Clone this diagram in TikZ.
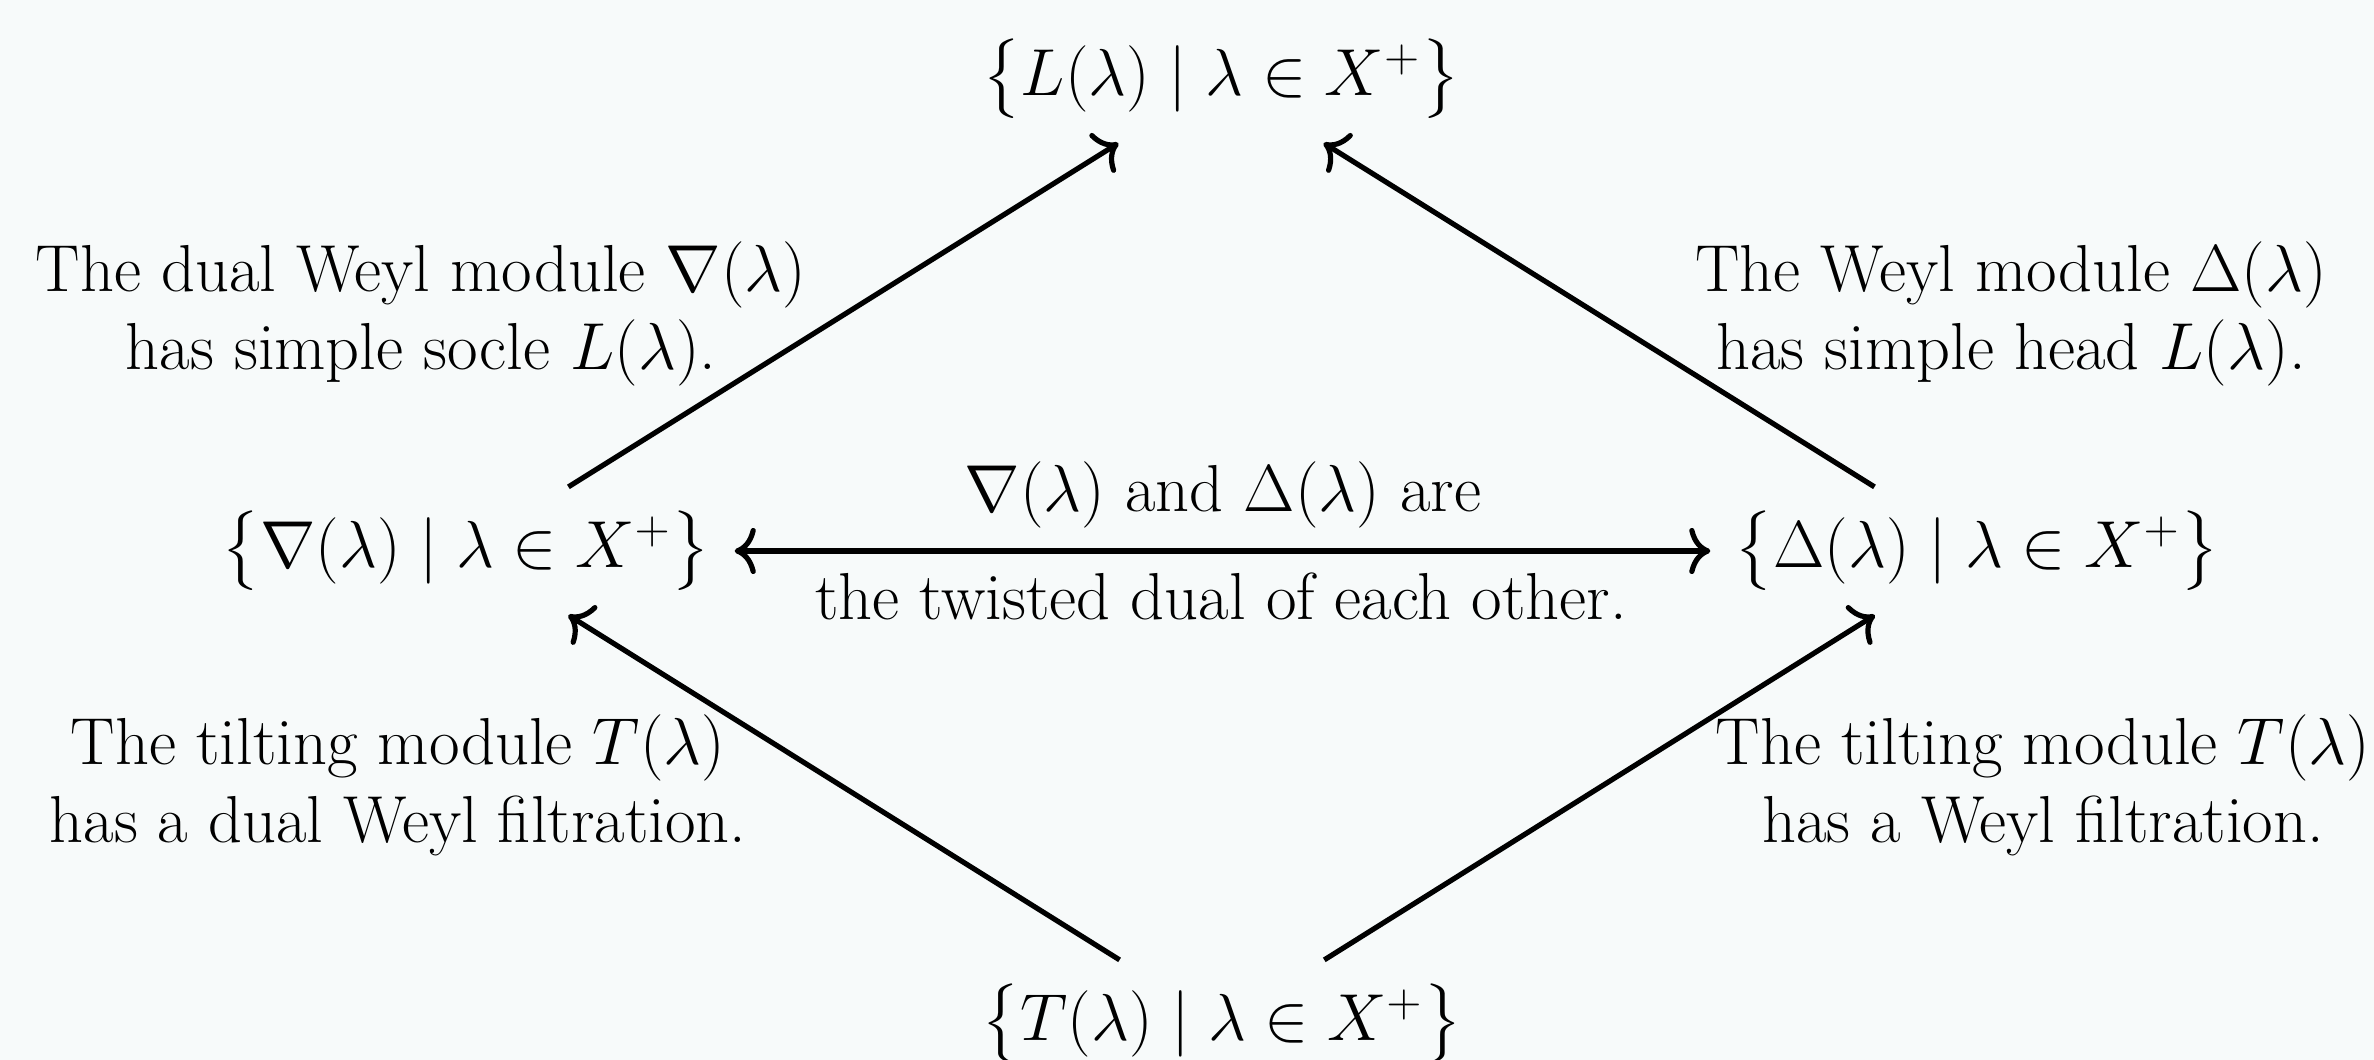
\documentclass[tikz,border=0pt]{standalone}
\usepackage{amsmath,amssymb}
\usetikzlibrary{arrows.meta}
\definecolor{bgcol}{RGB}{247,250,250}
\begin{document}
\begin{tikzpicture}[x=0.26pt,y=-0.26pt,
  font=\fontsize{17.28pt}{20.3pt}\selectfont,
  obj/.style={inner sep=6.1pt},
  lbl/.style={inner sep=0pt,anchor=base},
  tip/.style={Computer Modern Rightarrow[length=5.5pt,width=12pt]},
  arr/.style={line width=1.35pt,-{Computer Modern Rightarrow[length=5.5pt,width=12pt]}},
  darr/.style={line width=1.35pt,{Computer Modern Rightarrow[length=5.5pt,width=12pt]}-{Computer Modern Rightarrow[length=5.5pt,width=12pt]}},
]
\fill[bgcol] (0,0) rectangle (2374,1060);
\useasboundingbox (0,0) rectangle (2374,1060);
\node[obj] (T) at (1221,79) {$\bigl\{L(\lambda)\mid\lambda\in X^+\bigr\}$};
\node[obj] (N) at (466,551) {$\bigl\{\nabla(\lambda)\mid\lambda\in X^+\bigr\}$};
\node[obj] (D) at (1977,551) {$\bigl\{\Delta(\lambda)\mid\lambda\in X^+\bigr\}$};
\node[obj] (B) at (1222,1024) {$\bigl\{T(\lambda)\mid\lambda\in X^+\bigr\}$};
\draw[arr] (N) -- (T);
\draw[arr] (D) -- (T);
\draw[arr] (B) -- (N);
\draw[arr] (B) -- (D);
\draw[darr] (N) -- (D);
\node[lbl] (l1) at (421,370) {\begin{tabular}[b]{@{}c@{}}The dual Weyl module $\nabla(\lambda)$\\ has simple socle $L(\lambda)$.\end{tabular}};
\node[lbl] (l2) at (2011,370) {\begin{tabular}[b]{@{}c@{}}The Weyl module $\Delta(\lambda)$\\ has simple head $L(\lambda)$.\end{tabular}};
\node[lbl] (l3) at (398,843) {\begin{tabular}[b]{@{}c@{}}The tilting module $T(\lambda)$\\ has a dual Weyl filtration.\end{tabular}};
\node[lbl] (l4) at (2043,843) {\begin{tabular}[b]{@{}c@{}}The tilting module $T(\lambda)$\\ has a Weyl filtration.\end{tabular}};
\node[lbl] (m1) at (1223,512) {$\nabla(\lambda)$ and $\Delta(\lambda)$ are};
\node[lbl] (m2) at (1221,620) {the twisted dual of each other.};
\end{tikzpicture}
\end{document}
